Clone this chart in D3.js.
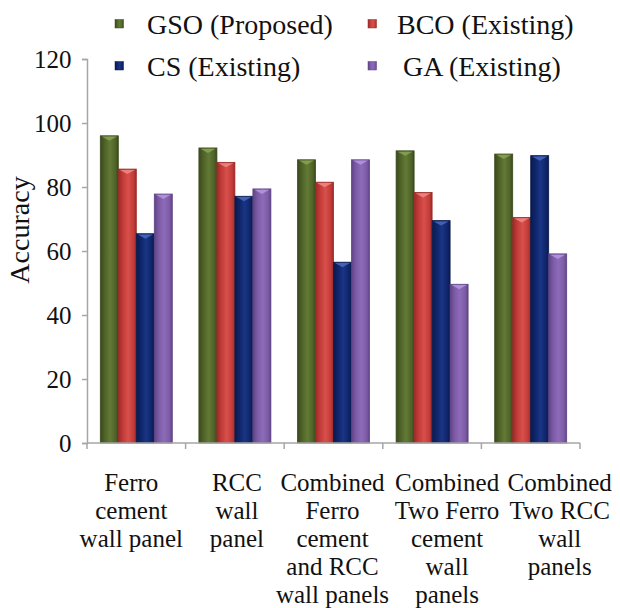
<!DOCTYPE html>
<html>
<head>
<meta charset="utf-8">
<script src="https://cdn.jsdelivr.net/npm/d3@7/dist/d3.min.js"></script>
<style>
  html, body { margin: 0; padding: 0; background: #ffffff; }
  svg { display: block; }
  svg text { font-family: "Liberation Serif", "DejaVu Serif", serif !important; fill: #111; }
</style>
</head>
<body>
<svg id="chart" width="620" height="608"></svg>
<script>
// ---- data ----
const categories = [
  ["Ferro", "cement", "wall panel"],
  ["RCC", "wall", "panel"],
  ["Combined", "Ferro", "cement", "and RCC", "wall panels"],
  ["Combined", "Two Ferro", "cement", "wall", "panels"],
  ["Combined", "Two RCC", "wall", "panels"]
];
const seriesNames = ["GSO (Proposed)", "BCO (Existing)", "CS (Existing)", "GA (Existing)"];
const gsoValues = [96, 92.2, 88.5, 91.3, 90.3];
const bcoValues = [85.6, 87.7, 81.5, 78.3, 70.5];
const csValues  = [65.4, 77.1, 56.5, 69.5, 89.8];
const gaValues  = [77.8, 79.4, 88.5, 49.6, 59.1];
const yTicks = [0, 20, 40, 60, 80, 100, 120];
const yLabel = "Accuracy";

// ---- styles ----
const FONT = '"Liberation Serif", "DejaVu Serif", serif';
const palette = [
  { base: "#4f6228", dark: "#3a4a1c", light: "#627a35", cap: "#8aa356" },
  { base: "#c23b38", dark: "#9a2a28", light: "#d8504c", cap: "#f08a86" },
  { base: "#0f256a", dark: "#0a1a4c", light: "#1a3585", cap: "#4a6ac0" },
  { base: "#7c5ba6", dark: "#5f4385", light: "#8d6bb8", cap: "#b596e0" }
];
const labelDx = [-5, 2, -1, 15, 29];

const allValues = [gsoValues, bcoValues, csValues, gaValues];
const svg = d3.select("#chart");

const plot = { left: 87, right: 580, top: 59, bottom: 443 };

const y = d3.scaleLinear().domain([0, 120]).range([plot.bottom, plot.top]);
const catIdx = categories.map((d, i) => i);
const x0 = d3.scaleBand().domain(catIdx).range([plot.left, plot.right]).padding(0);
const bw = x0.bandwidth();
const x1 = d3.scaleBand().domain(d3.range(seriesNames.length))
  .range([bw * 0.135, bw * 0.865]).padding(0);

// gradients
const defs = svg.append("defs");
palette.forEach((p, i) => {
  const g = defs.append("linearGradient").attr("id", "grad" + i)
    .attr("x1", "0%").attr("x2", "100%").attr("y1", "0%").attr("y2", "0%");
  g.append("stop").attr("offset", "0%").attr("stop-color", p.dark);
  g.append("stop").attr("offset", "25%").attr("stop-color", p.base);
  g.append("stop").attr("offset", "55%").attr("stop-color", p.light);
  g.append("stop").attr("offset", "85%").attr("stop-color", p.base);
  g.append("stop").attr("offset", "100%").attr("stop-color", p.dark);
});

// y axis
const yAxis = d3.axisLeft(y).tickValues(yTicks).tickSize(5).tickPadding(10);
const yg = svg.append("g").attr("transform", `translate(${plot.left},0)`).call(yAxis)
  .attr("font-family", FONT);
yg.select(".domain").attr("stroke", "#a6a6a6").attr("stroke-width", 1.5);
yg.selectAll(".tick line").attr("stroke", "#a6a6a6").attr("stroke-width", 1.5);
yg.selectAll(".tick text")
  .attr("font-family", FONT)
  .style("font-size", "25px").attr("fill", "#111").attr("dx", "-0.5");

// bars
const groups = svg.append("g").selectAll("g").data(catIdx).join("g")
  .attr("transform", i => `translate(${x0(i)},0)`);

groups.each(function(ci) {
  const g = d3.select(this);
  allValues.forEach((vals, si) => {
    const v = vals[ci];
    const bx = x1(si), bwid = x1.bandwidth();
    const top = y(v);
    g.append("rect")
      .attr("x", bx).attr("y", top)
      .attr("width", bwid).attr("height", y(0) - top)
      .attr("fill", `url(#grad${si})`)
      .attr("stroke", palette[si].dark).attr("stroke-width", 0.8);
    g.append("path")
      .attr("d", `M${bx + 1.5},${top + 0.8} L${bx + bwid - 1.5},${top + 0.8} L${bx + bwid / 2},${top + 5} Z`)
      .attr("fill", palette[si].cap).attr("opacity", 0.85);
  });
});

// x axis line and ticks
svg.append("line")
  .attr("x1", plot.left).attr("x2", plot.right)
  .attr("y1", plot.bottom).attr("y2", plot.bottom)
  .attr("stroke", "#a6a6a6").attr("stroke-width", 1.5);
const boundaries = catIdx.map(i => x0(i)).concat([x0(catIdx[catIdx.length - 1]) + bw]);
svg.append("g").selectAll("line").data(boundaries).join("line")
  .attr("x1", d => d).attr("x2", d => d)
  .attr("y1", plot.bottom).attr("y2", plot.bottom + 6)
  .attr("stroke", "#a6a6a6").attr("stroke-width", 1.5);

// x labels
const xl = svg.append("g").selectAll("text").data(catIdx).join("text")
  .attr("text-anchor", "middle")
  .attr("font-family", FONT)
  .style("font-size", "25px");
xl.each(function(i) {
  const t = d3.select(this);
  const cx = x0(i) + bw / 2 + labelDx[i];
  categories[i].forEach((line, li) => {
    t.append("tspan").attr("x", cx).attr("y", 491 + li * 28).text(line);
  });
});

// y label
svg.append("text")
  .attr("transform", "translate(29,230) rotate(-90)")
  .attr("text-anchor", "middle")
  .attr("font-family", FONT)
  .style("font-size", "28px")
  .text(yLabel);

// legend
const legendPos = [
  { mx: 115, tx: 147, y: 24 },
  { mx: 368, tx: 397, y: 24 },
  { mx: 115, tx: 147, y: 66 },
  { mx: 368, tx: 403, y: 66 }
];
const lg = svg.append("g");
seriesNames.forEach((name, i) => {
  const p = legendPos[i];
  lg.append("rect").attr("x", p.mx).attr("y", p.y - 4.5).attr("width", 8.5).attr("height", 8.5)
    .attr("fill", `url(#grad${i})`).attr("stroke", palette[i].dark).attr("stroke-width", 0.5);
  lg.append("text").attr("x", p.tx).attr("y", p.y + 9.5)
    .attr("font-family", FONT)
    .style("font-size", "28px").text(name);
});
</script>
</body>
</html>
